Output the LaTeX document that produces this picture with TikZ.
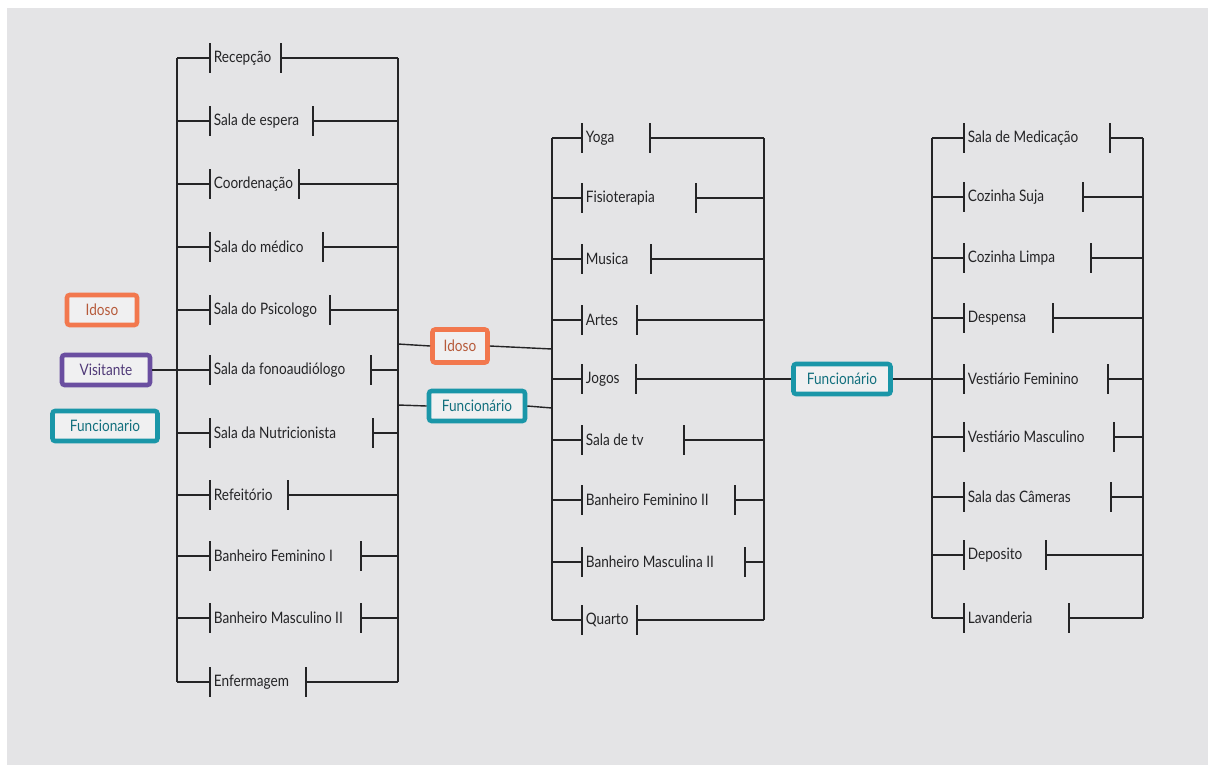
\documentclass[tikz,border=0pt]{standalone}
\usepackage{fontspec}
\setmainfont{Lato}[FakeStretch=0.86]
\usetikzlibrary{calc}
\definecolor{paper}{RGB}{228,228,230}
\definecolor{ink}{RGB}{36,36,38}
\definecolor{idosoc}{RGB}{242,120,78}
\definecolor{visitc}{RGB}{106,78,160}
\definecolor{funcc}{RGB}{26,150,168}

\begin{document}
\begin{tikzpicture}[x=0.02cm, y=-0.02cm, font=\fontsize{9}{10}\selectfont,
  wire/.style={ink, line width=0.8pt},
  bar/.style={ink, line width=1.1pt},
  room/.style={anchor=west, inner sep=2pt, text=ink},
  tag/.style={draw=#1, text=#1!75!black, line width=2.6pt, rounded corners=1.5pt,
    fill=white!45!paper, inner sep=0pt, minimum height=0.6cm}]
  \fill[white] (0,0) rectangle (1208,765);
  \fill[paper] (7,8) rectangle (1208,765);
  % (a) entrance wing: rooms hung between two buses
  \begin{scope}
    \foreach \i/\y/\r/\t in {1/58/281/Recepção, 2/121/313/Sala de espera, 3/184/299/Coordenação,
        4/247/323/Sala do médico, 5/310/330/Sala do Psicologo, 6/370/371/Sala da fonoaudiólogo,
        7/433/373/Sala da Nutricionista, 8/495/288/Refeitório, 9/556/361/Banheiro Feminino I,
        10/618/361/Banheiro Masculino II, 11/682/306/Enfermagem} {
      \coordinate (A\i) at (177,\y);
      \coordinate (AL\i) at (210,\y);
      \coordinate (AR\i) at (\r,\y);
      \coordinate (B\i) at (398,\y);
      \node[room] (a\i) at (AL\i) {\t};
      \draw[wire] (A\i) -- (AL\i) (AR\i) -- (B\i);
      \draw[bar] (AL\i) ++(0,-15) -- ++(0,30) (AR\i) ++(0,-15) -- ++(0,30);
    }
    \draw[wire] (A1) -- (A11) (B1) -- (B11);
    \node[tag=idosoc, minimum width=1.4cm] (idoA) at (102,310) {Idoso};
    \node[tag=visitc, minimum width=1.76cm] (visA) at (106,370) {Visitante};
    \node[tag=funcc, minimum width=2.1cm] (funA) at (105,426) {Funcionario};
    \draw[wire] (visA.east) -- (AL6);
  \end{scope}
  % (b) activities wing
  \begin{scope}
    \foreach \i/\y/\r/\t in {1/138/650/Yoga, 2/198/696/Fisioterapia, 3/259/651/Musica,
        4/320/637/Artes, 5/379/636/Jogos, 6/440/684/Sala de tv, 7/500/735/Banheiro Feminino II,
        8/562/745/Banheiro Masculina II, 9/620/637/Quarto} {
      \coordinate (C\i) at (552,\y);
      \coordinate (CL\i) at (582,\y);
      \coordinate (CR\i) at (\r,\y);
      \coordinate (D\i) at (764,\y);
      \node[room] (c\i) at (CL\i) {\t};
      \draw[wire] (C\i) -- (CL\i);
      \draw[bar] (CL\i) ++(0,-15) -- ++(0,30) (CR\i) ++(0,-15) -- ++(0,30);
    }
    \foreach \i in {1,2,3,4,6,7,8,9} \draw[wire] (CR\i) -- (D\i);
    \draw[wire] (C1) -- (C9) (D1) -- (D9);
    \node[tag=idosoc, minimum width=1.1cm, minimum height=0.66cm] (idoB) at (460,346) {Idoso};
    \node[tag=funcc, minimum width=1.92cm] (funB) at (477,406) {Funcionário};
    \coordinate (jB1) at (398,344);
    \coordinate (jB2) at (398,405);
    \coordinate (jC1) at (552,349);
    \coordinate (jC2) at (552,408);
    \draw[wire] (jB1) -- (idoB.west) (idoB.east) -- (jC1);
    \draw[wire] (jB2) -- (funB.west) (funB.east) -- (jC2);
  \end{scope}
  % (c) staff wing
  \begin{scope}
    \foreach \i/\y/\r/\t in {1/138/1110/Sala de Medicação, 2/197/1083/Cozinha Suja,
        3/258/1091/Cozinha Limpa, 4/318/1053/Despensa, 5/379/1108/Vestiário Feminino,
        6/437/1114/Vestiário Masculino, 7/497/1111/Sala das Câmeras, 8/555/1046/Deposito,
        9/618/1069/Lavanderia} {
      \coordinate (E\i) at (932,\y);
      \coordinate (EL\i) at (964,\y);
      \coordinate (ER\i) at (\r,\y);
      \coordinate (F\i) at (1143,\y);
      \node[room] (e\i) at (EL\i) {\t};
      \draw[wire] (E\i) -- (EL\i) (ER\i) -- (F\i);
      \draw[bar] (EL\i) ++(0,-15) -- ++(0,30) (ER\i) ++(0,-15) -- ++(0,30);
    }
    \draw[wire] (E1) -- (E9) (F1) -- (F9);
    \node[tag=funcc, minimum width=1.94cm] (funC) at (842,379) {Funcionário};
    \draw[wire] (CR5) -- (funC.west) (funC.east) -- (EL5);
  \end{scope}
\end{tikzpicture}
\end{document}
